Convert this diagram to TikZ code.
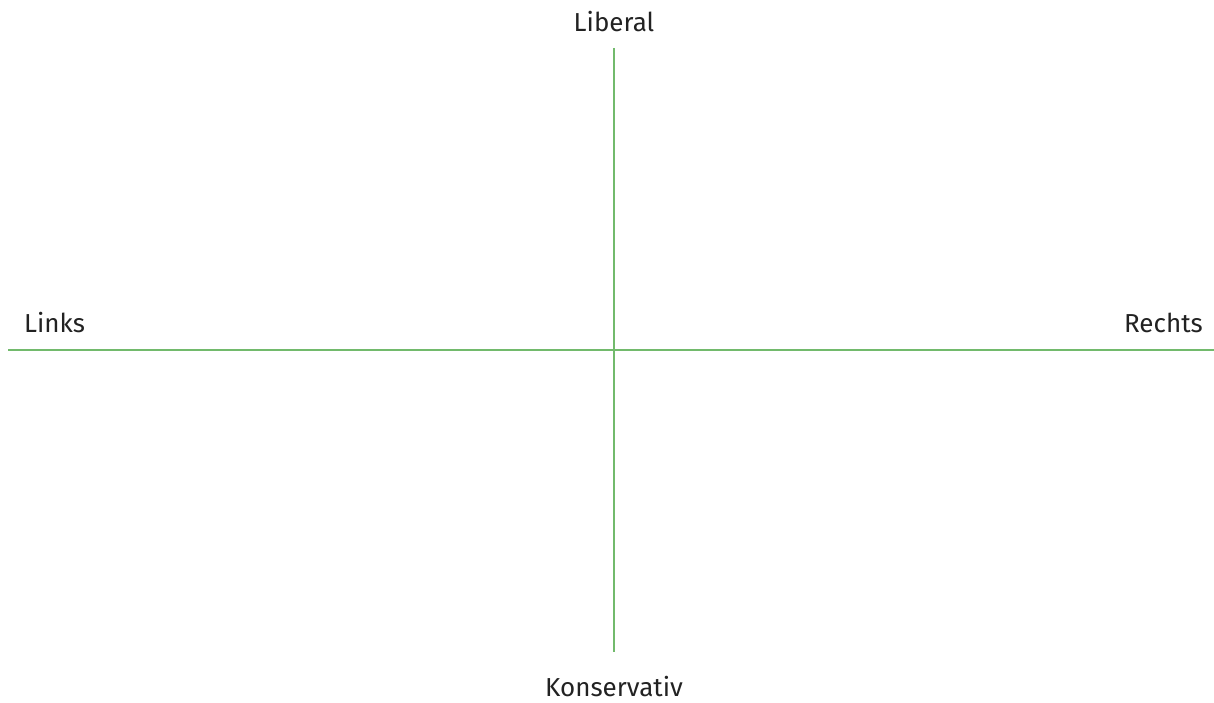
\documentclass[tikz,border=0pt]{standalone}
\usepackage{fontspec}
\setmainfont{Fira Sans}
\usepackage{xcolor}
\definecolor{axis}{HTML}{72BA6C}
\definecolor{ink}{HTML}{222222}
\usetikzlibrary{positioning}
\tikzset{
  axisline/.style={draw=axis,line width=1.5pt},
  lab/.style={font=\fontsize{26}{30}\selectfont\color{ink},inner sep=0pt},
}

\begin{document}
\begin{tikzpicture}[x=1pt,y=1pt]
\useasboundingbox (0,0) rectangle (1214,702);
% axis ends
\coordinate (top) at (614,654);
\coordinate (bot) at (614,50);
\coordinate (lft) at (8,352);
\coordinate (rgt) at (1214,352);
\draw[axisline] (top) -- (bot);
\draw[axisline] (lft) -- (rgt);
% labels
\node[lab,anchor=base] (lib) at (614,670) {Liberal};
\node[lab,anchor=base] (kon) at (614,6) {Konservativ};
\node[lab,anchor=base west] (lnk) at (24,369) {Links};
\node[lab,anchor=base east] (rch) at (1203,369) {Rechts};
\end{tikzpicture}
\end{document}
